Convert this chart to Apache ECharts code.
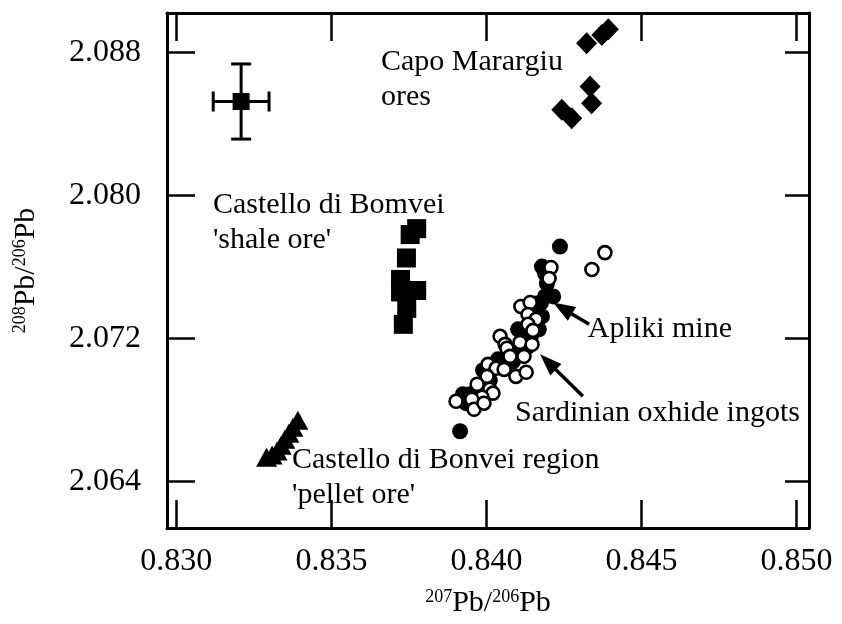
<!DOCTYPE html>
<html>
<head>
<meta charset="utf-8">
<script src="https://cdn.jsdelivr.net/npm/echarts@6/dist/echarts.min.js"></script>
<style>
  html, body { margin: 0; padding: 0; background: #fff; }
  #chart { width: 842px; height: 624px; }
</style>
</head>
<body>
<div id="chart"></div>
<script>
// Tick values shown on the two axes
const xTicks = [0.830, 0.835, 0.840, 0.845, 0.850];
const yTicks = [2.064, 2.072, 2.080, 2.088];

// Representative analysis with its 2-sigma uncertainty: [207/206, 208/206, ±x, ±y]
const errorRef = [[0.83209, 2.08525, 0.0009, 0.0021]];

// Capo Marargiu ores
const capoMarargiu = [
  [0.84323, 2.08851], [0.84372, 2.08897], [0.84393, 2.08929],
  [0.84334, 2.08609], [0.84339, 2.08516],
  [0.84243, 2.08479], [0.84275, 2.08432]
];

// Castello di Bomvei 'shale ore'
const bomveiShale = [
  [0.83754, 2.07781], [0.83775, 2.07814], [0.83742, 2.07650],
  [0.83723, 2.07530], [0.83723, 2.07460], [0.83775, 2.07468],
  [0.83743, 2.07368], [0.83732, 2.07279]
];

// Castello di Bonvei region 'pellet ore'
const bonveiPellet = [
  [0.83291, 2.06535], [0.83309, 2.06548], [0.83325, 2.06570],
  [0.83338, 2.06603], [0.83350, 2.06637], [0.83363, 2.06670],
  [0.83376, 2.06704], [0.83392, 2.06743]
];

// Apliki mine ores
const apliki = [
  [0.84237, 2.07714], [0.83915, 2.06681], [0.84179, 2.07602],
  [0.84189, 2.07563], [0.84195, 2.07507], [0.84215, 2.07435],
  [0.84189, 2.07435], [0.84176, 2.07401], [0.84160, 2.07396],
  [0.84179, 2.07323], [0.84153, 2.07357], [0.84169, 2.07251],
  [0.84144, 2.07217], [0.84108, 2.07139], [0.84086, 2.07072],
  [0.84066, 2.07067], [0.84037, 2.07083], [0.83989, 2.07022],
  [0.84011, 2.06966], [0.83986, 2.06933], [0.83947, 2.06888],
  [0.83924, 2.06888], [0.83934, 2.06838], [0.84131, 2.07150],
  [0.84102, 2.07251]
];

// Sardinian oxhide ingots
const sardinianIngots = [
  [0.84382, 2.07680], [0.84340, 2.07586], [0.84208, 2.07597],
  [0.84111, 2.07379], [0.84141, 2.07401], [0.84134, 2.07334],
  [0.84160, 2.07307], [0.84134, 2.07279], [0.84150, 2.07245],
  [0.84044, 2.07212], [0.84108, 2.07178], [0.84060, 2.07167],
  [0.84147, 2.07167], [0.84066, 2.07145], [0.84076, 2.07100],
  [0.84121, 2.07100], [0.84005, 2.07055], [0.84031, 2.07033],
  [0.84057, 2.07027], [0.84095, 2.06988], [0.84128, 2.07011],
  [0.84002, 2.06988], [0.83970, 2.06944], [0.84011, 2.06916],
  [0.84021, 2.06894], [0.83986, 2.06871], [0.83953, 2.06860],
  [0.83902, 2.06849], [0.83960, 2.06804], [0.83992, 2.06838],
  [0.84202, 2.07535]
];

const FONT = '"Liberation Serif", "Times New Roman", Times, serif';
const INK = '#000';

// Group captions, anchored in data space (left edge, middle of first line)
const notes = [
  { lines: ['Capo Marargiu', 'ores'], at: [0.83660, 2.08747] },
  { lines: ['Castello di Bomvei', "'shale ore'"], at: [0.83118, 2.07943] },
  { lines: ['Castello di Bonvei region', "'pellet ore'"], at: [0.83373, 2.06520] },
  { lines: ['Apliki mine'], at: [0.84327, 2.07251] },
  { lines: ['Sardinian oxhide ingots'], at: [0.84092, 2.06782] }
];

// Pointer arrows: [tail, tip] in data space
const arrows = [
  [[0.84331, 2.07279], [0.84215, 2.07401]],
  [[0.84311, 2.06877], [0.84173, 2.07111]]
];

const X_MIN = 0.8297, X_MAX = 0.8504;
const Y_MIN = 2.0614, Y_MAX = 2.0902;

const supRich = {
  sup: { fontFamily: FONT, fontSize: 18, color: INK, verticalAlign: 'top', lineHeight: 30 },
  main: { fontFamily: FONT, fontSize: 30, color: INK, verticalAlign: 'bottom', lineHeight: 30 }
};

function frameAxis(extra) {
  return Object.assign({
    type: 'value',
    axisLine: { show: true, onZero: false, lineStyle: { color: INK, width: 3 } },
    splitLine: { show: false }
  }, extra);
}

const tickStyle = { color: INK, width: 2.5 };
const solid = c => ({ color: c, opacity: 1 });

const option = {
  animation: false,
  backgroundColor: '#fff',
  grid: { left: 167, right: 33, top: 13, bottom: 96, containLabel: false },
  xAxis: [
    frameAxis({
      min: X_MIN, max: X_MAX, position: 'bottom',
      axisTick: { show: true, inside: true, length: 28, customValues: xTicks, lineStyle: tickStyle },
      axisLabel: {
        customValues: xTicks, color: INK, fontFamily: FONT, fontSize: 32, margin: 18,
        formatter: v => v.toFixed(3)
      },
      name: '{sup|207}{main|Pb/}{sup|206}{main|Pb}',
      nameLocation: 'middle', nameGap: 60,
      nameTextStyle: { rich: supRich }
    }),
    frameAxis({
      min: X_MIN, max: X_MAX, position: 'top',
      axisTick: { show: true, inside: true, length: 28, customValues: xTicks, lineStyle: tickStyle },
      axisLabel: { show: false }
    })
  ],
  yAxis: [
    frameAxis({
      min: Y_MIN, max: Y_MAX, position: 'left',
      axisTick: { show: true, inside: true, length: 28, customValues: yTicks, lineStyle: tickStyle },
      axisLabel: {
        customValues: yTicks, color: INK, fontFamily: FONT, fontSize: 32, margin: 26,
        formatter: v => v.toFixed(3)
      },
      name: '{sup|208}{main|Pb/}{sup|206}{main|Pb}',
      nameLocation: 'middle', nameGap: 126, nameRotate: 90,
      nameTextStyle: { rich: supRich }
    }),
    frameAxis({
      min: Y_MIN, max: Y_MAX, position: 'right',
      axisTick: { show: true, inside: true, length: 24, customValues: yTicks, lineStyle: tickStyle },
      axisLabel: { show: false }
    })
  ],
  series: [
    {
      name: 'uncertainty',
      type: 'custom',
      renderItem: (params, api) => {
        const x = api.value(0), y = api.value(1), dx = api.value(2), dy = api.value(3);
        const l = api.coord([x - dx, y]), r = api.coord([x + dx, y]);
        const t = api.coord([x, y + dy]), b = api.coord([x, y - dy]);
        const cap = 10;
        const st = { stroke: INK, lineWidth: 3 };
        return {
          type: 'group',
          children: [
            { type: 'line', shape: { x1: l[0], y1: l[1], x2: r[0], y2: r[1] }, style: st },
            { type: 'line', shape: { x1: t[0], y1: t[1], x2: b[0], y2: b[1] }, style: st },
            { type: 'line', shape: { x1: l[0], y1: l[1] - cap, x2: l[0], y2: l[1] + cap }, style: st },
            { type: 'line', shape: { x1: r[0], y1: r[1] - cap, x2: r[0], y2: r[1] + cap }, style: st },
            { type: 'line', shape: { x1: t[0] - cap, y1: t[1], x2: t[0] + cap, y2: t[1] }, style: st },
            { type: 'line', shape: { x1: b[0] - cap, y1: b[1], x2: b[0] + cap, y2: b[1] }, style: st }
          ]
        };
      },
      data: errorRef,
      z: 3
    },
    {
      name: 'uncertainty point', type: 'scatter', symbol: 'rect', symbolSize: 17,
      itemStyle: solid(INK), data: errorRef.map(d => [d[0], d[1]]), z: 4
    },
    {
      name: 'Capo Marargiu ores', type: 'scatter', symbol: 'diamond', symbolSize: [21, 22],
      itemStyle: solid(INK), data: capoMarargiu
    },
    {
      name: "Castello di Bomvei 'shale ore'", type: 'scatter', symbol: 'rect', symbolSize: 19,
      itemStyle: solid(INK), data: bomveiShale
    },
    {
      name: "Castello di Bonvei region 'pellet ore'", type: 'scatter', symbol: 'triangle', symbolSize: [21, 19],
      itemStyle: solid(INK), data: bonveiPellet
    },
    {
      name: 'Apliki mine', type: 'scatter', symbol: 'circle', symbolSize: 16,
      itemStyle: solid(INK), data: apliki, z: 2
    },
    {
      name: 'Sardinian oxhide ingots', type: 'scatter', symbol: 'circle', symbolSize: 13,
      itemStyle: { color: '#fff', borderColor: INK, borderWidth: 2.6, opacity: 1 },
      data: sardinianIngots, z: 3
    }
  ]
};

const chart = echarts.init(document.getElementById('chart'), null, { renderer: 'canvas' });
chart.setOption(option);

// Captions and pointer arrows placed through the grid's coordinate system
function drawOverlay() {
  const toPx = p => chart.convertToPixel({ gridIndex: 0 }, p);
  const els = [];
  const lineGap = 35;
  notes.forEach(n => {
    const [px, py] = toPx(n.at);
    n.lines.forEach((txt, i) => {
      els.push({
        type: 'text', x: px, y: py + i * lineGap, z: 10,
        style: {
          text: txt, fill: INK, fontFamily: FONT, fontSize: 30,
          align: 'left', verticalAlign: 'middle'
        }
      });
    });
  });
  arrows.forEach(([tail, tip]) => {
    const s = toPx(tail), t = toPx(tip);
    const dx = t[0] - s[0], dy = t[1] - s[1];
    const len = Math.hypot(dx, dy);
    const ux = dx / len, uy = dy / len;
    const headL = 22, headW = 8;
    const bx = t[0] - ux * headL, by = t[1] - uy * headL;
    els.push({
      type: 'line', z: 10,
      shape: { x1: s[0], y1: s[1], x2: bx + ux * 2, y2: by + uy * 2 },
      style: { stroke: INK, lineWidth: 3.5 }
    });
    els.push({
      type: 'polygon', z: 10,
      shape: { points: [[t[0], t[1]], [bx - uy * headW, by + ux * headW], [bx + uy * headW, by - ux * headW]] },
      style: { fill: INK }
    });
  });
  chart.setOption({ graphic: { elements: els } });
}
drawOverlay();
</script>
</body>
</html>
